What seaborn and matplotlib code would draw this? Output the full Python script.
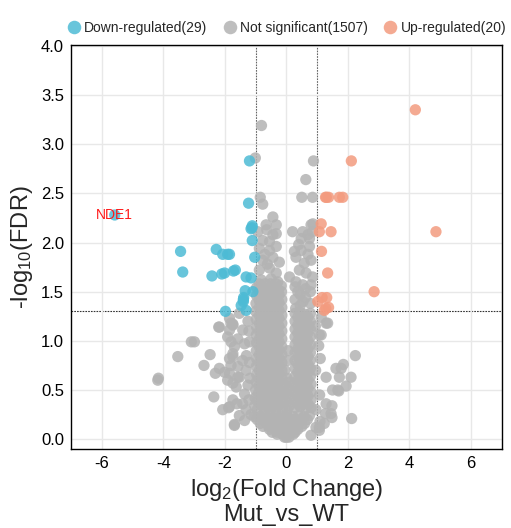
import numpy as np
import pandas as pd
import matplotlib
matplotlib.use("Agg")
import matplotlib.pyplot as plt
import seaborn as sns

# ---------------- data ----------------
down_pts = [
    (-5.58, 2.28), (-1.20, 2.83), (-1.23, 2.40), (-1.11, 2.17), (-1.15, 2.14),
    (-1.11, 2.02), (-1.03, 1.85), (-3.44, 1.91), (-3.37, 1.70), (-2.28, 1.93),
    (-2.07, 1.88), (-1.91, 1.88), (-1.85, 1.88), (-2.42, 1.66), (-2.10, 1.68),
    (-2.01, 1.69), (-1.72, 1.71), (-1.66, 1.72), (-1.31, 1.65), (-1.15, 1.64),
    (-1.34, 1.51), (-1.39, 1.44), (-1.40, 1.42), (-1.47, 1.36), (-1.31, 1.31),
    (-1.98, 1.30), (-1.09, 1.50), (-1.40, 1.40), (-1.12, 2.15),
]
up_pts = [
    (4.19, 3.35), (2.11, 2.83), (1.27, 2.46), (1.37, 2.46), (1.72, 2.46),
    (1.83, 2.46), (1.30, 2.46), (4.86, 2.11), (1.13, 2.19), (1.07, 2.11),
    (1.45, 2.11), (1.14, 1.91), (1.34, 1.69), (2.85, 1.50), (1.16, 1.44),
    (1.31, 1.44), (1.02, 1.40), (1.37, 1.34), (1.23, 1.31), (1.28, 1.33),
]
gray_pts = [
    # upper scattered
    (-0.81, 3.19), (-1.01, 2.86), (0.88, 2.83), (0.63, 2.64), (-0.85, 2.46),
    (-0.77, 2.39), (0.50, 2.46), (0.85, 2.46), (-0.44, 2.26), (-0.33, 2.18),
    (-0.66, 2.18), (-0.64, 2.13), (-0.93, 2.11), (-0.44, 2.08), (-0.33, 2.09),
    (-0.77, 2.02), (-0.55, 2.01), (0.20, 2.11), (0.53, 2.11), (0.80, 2.18),
    (0.85, 2.11), (0.48, 2.04), (0.75, 2.04), (-0.88, 1.94), (-0.55, 1.92),
    (-0.33, 1.96), (0.26, 1.91), (0.48, 1.92), (0.75, 1.96), (-0.77, 1.82),
    (-0.44, 1.85), (-0.23, 1.80), (0.31, 1.85), (0.58, 1.79), (0.80, 1.82),
    (-0.88, 1.72), (-0.55, 1.74), (-0.33, 1.69), (0.10, 1.65), (0.64, 1.69),
    (0.85, 1.65), (-0.82, 1.62), (-0.50, 1.63), (-0.28, 1.60), (0.31, 1.60),
    (0.53, 1.57), (0.80, 1.57), (0.86, 2.19), (0.70, 2.08), (0.40, 1.98),
    (-0.70, 1.88), (-0.62, 1.78), (0.70, 1.88), (0.42, 1.72),
    # left scattered
    (-0.88, 1.41), (-1.85, 1.23), (-1.74, 1.17), (-2.18, 1.14), (-1.53, 1.28),
    (-1.74, 1.16), (-1.42, 1.11), (-1.69, 0.94), (-1.36, 0.97), (-1.20, 0.99),
    (-1.74, 0.84), (-1.42, 0.80), (-1.58, 0.74), (-1.85, 0.67), (-1.53, 0.63),
    (-1.31, 0.70), (-1.63, 0.53), (-1.36, 0.46), (-1.74, 0.40), (-1.42, 0.36),
    (-1.85, 0.33), (-1.53, 0.24), (-1.31, 0.30), (-1.69, 0.14), (-1.36, 0.19),
    (-4.16, 0.62), (-4.18, 0.60), (-3.53, 0.84), (-3.09, 0.99), (-2.99, 0.99),
    (-2.48, 0.86), (-2.68, 0.75), (-2.36, 0.43), (-2.20, 1.14), (-2.31, 0.67),
    (-2.18, 0.72), (-2.01, 0.68), (-1.80, 0.75), (-1.85, 0.82), (-1.74, 0.87),
    (-1.91, 1.04), (-1.80, 0.99), (-1.58, 1.02), (-1.85, 1.11), (-1.80, 1.18),
    (-1.91, 0.60), (-1.74, 0.57), (-1.58, 0.63), (-2.07, 0.30), (-1.88, 0.32),
    (-1.69, 0.15), (-1.61, 0.36), (-1.25, 1.20), (-1.30, 0.85), (-1.25, 0.55),
    (-1.22, 0.40), (-1.20, 0.78), (-1.18, 0.62), (-1.15, 0.25), (-1.22, 1.10),
    # right scattered
    (1.29, 1.18), (1.13, 1.24), (1.07, 1.06), (1.61, 0.72), (1.29, 0.63),
    (1.50, 0.50), (1.67, 0.50), (1.29, 0.36), (1.45, 0.26), (1.23, 0.16),
    (1.07, 0.09), (0.80, 0.04), (0.96, 0.12), (2.24, 0.85), (1.85, 0.76),
    (1.78, 0.72), (2.10, 0.63), (1.72, 0.63), (1.94, 0.54), (1.70, 0.49),
    (1.48, 0.34), (1.27, 0.26), (1.48, 0.22), (2.12, 0.21), (1.34, 1.18),
    (1.13, 1.06), (1.10, 0.82), (1.07, 0.12), (1.09, 0.18), (1.05, 0.95),
    (1.08, 0.45), (0.95, 0.70), (0.96, 0.30), (0.94, 1.15),
    # dense core, left column
    (-0.97, 1.54), (-0.79, 1.55), (-0.61, 1.53), (-0.43, 1.54), (-0.26, 1.52),
    (-0.97, 1.46), (-0.79, 1.47), (-0.61, 1.45), (-0.43, 1.46), (-0.24, 1.47),
    (-0.99, 1.38), (-0.79, 1.39), (-0.61, 1.37), (-0.43, 1.38), (-0.24, 1.39),
    (-1.00, 1.30), (-0.80, 1.31), (-0.62, 1.29), (-0.43, 1.30), (-0.24, 1.31),
    (-0.98, 1.22), (-0.79, 1.23), (-0.61, 1.21), (-0.43, 1.22), (-0.24, 1.23),
    (-0.97, 1.14), (-0.79, 1.15), (-0.61, 1.13), (-0.43, 1.14), (-0.24, 1.15),
    (-0.98, 1.06), (-0.79, 1.07), (-0.61, 1.05), (-0.43, 1.06), (-0.24, 1.07),
    (-0.97, 0.98), (-0.79, 0.99), (-0.61, 0.97), (-0.43, 0.98), (-0.24, 0.99),
    (-0.98, 0.90), (-0.79, 0.91), (-0.61, 0.89), (-0.43, 0.90), (-0.24, 0.91),
    (-0.97, 0.82), (-0.79, 0.83), (-0.61, 0.81), (-0.43, 0.82), (-0.24, 0.83),
    (-0.98, 0.74), (-0.79, 0.75), (-0.61, 0.73), (-0.43, 0.74), (-0.24, 0.75),
    (-0.97, 0.66), (-0.79, 0.67), (-0.61, 0.65), (-0.43, 0.66), (-0.24, 0.67),
    (-0.98, 0.58), (-0.79, 0.59), (-0.61, 0.57), (-0.43, 0.58), (-0.24, 0.59),
    (-1.00, 0.50), (-0.79, 0.51), (-0.61, 0.49), (-0.43, 0.50), (-0.24, 0.51),
    (-1.02, 0.42), (-0.80, 0.43), (-0.61, 0.41), (-0.43, 0.42), (-0.24, 0.43),
    (-1.03, 0.34), (-0.81, 0.35), (-0.62, 0.33), (-0.43, 0.34), (-0.24, 0.35),
    # dense core, left column (in-between)
    (-0.88, 1.58), (-0.70, 1.58), (-0.52, 1.58), (-0.34, 1.58), (-0.17, 1.56),
    (-0.88, 1.50), (-0.70, 1.50), (-0.52, 1.50), (-0.34, 1.50), (-0.16, 1.50),
    (-0.88, 1.42), (-0.70, 1.42), (-0.52, 1.42), (-0.34, 1.42), (-0.15, 1.42),
    (-0.88, 1.34), (-0.70, 1.34), (-0.52, 1.34), (-0.34, 1.34), (-0.15, 1.34),
    (-0.88, 1.26), (-0.70, 1.26), (-0.52, 1.26), (-0.34, 1.26), (-0.15, 1.26),
    (-0.88, 1.18), (-0.70, 1.18), (-0.52, 1.18), (-0.34, 1.18), (-0.15, 1.18),
    (-0.88, 1.10), (-0.70, 1.10), (-0.52, 1.10), (-0.34, 1.10), (-0.15, 1.10),
    (-0.88, 1.02), (-0.70, 1.02), (-0.52, 1.02), (-0.34, 1.02), (-0.15, 1.02),
    (-0.88, 0.94), (-0.70, 0.94), (-0.52, 0.94), (-0.34, 0.94), (-0.15, 0.94),
    (-0.88, 0.86), (-0.70, 0.86), (-0.52, 0.86), (-0.34, 0.86), (-0.15, 0.86),
    (-0.88, 0.78), (-0.70, 0.78), (-0.52, 0.78), (-0.34, 0.78), (-0.15, 0.78),
    (-0.88, 0.70), (-0.70, 0.70), (-0.52, 0.70), (-0.34, 0.70), (-0.15, 0.70),
    (-0.88, 0.62), (-0.70, 0.62), (-0.52, 0.62), (-0.34, 0.62), (-0.15, 0.62),
    (-0.90, 0.54), (-0.70, 0.54), (-0.52, 0.54), (-0.34, 0.54), (-0.14, 0.54),
    (-0.92, 0.46), (-0.70, 0.46), (-0.52, 0.46), (-0.34, 0.46), (-0.12, 0.46),
    (-0.93, 0.38), (-0.72, 0.38), (-0.52, 0.38), (-0.34, 0.38), (-0.12, 0.38),
    (-0.95, 0.30), (-0.72, 0.30), (-0.52, 0.30), (-0.34, 0.30), (-0.12, 0.30),
    # dense core, centre (lower part only)
    (0.02, 0.62), (0.02, 0.54), (0.02, 0.46), (0.02, 0.38), (0.02, 0.30),
    (0.10, 0.58), (0.10, 0.50), (0.10, 0.42), (0.10, 0.34), (-0.05, 0.70),
    (0.04, 0.80), (0.06, 0.90),
    # dense core, right column
    (0.28, 1.55), (0.62, 1.53), (0.78, 1.50), (0.45, 1.47), (0.28, 1.42),
    (0.62, 1.44), (0.78, 1.38), (0.45, 1.36), (0.30, 1.33),
    (0.28, 1.28), (0.45, 1.29), (0.62, 1.27), (0.78, 1.28),
    (0.28, 1.20), (0.45, 1.21), (0.62, 1.19), (0.78, 1.20),
    (0.28, 1.12), (0.45, 1.13), (0.62, 1.11), (0.78, 1.12),
    (0.28, 1.04), (0.45, 1.05), (0.62, 1.03), (0.78, 1.04),
    (0.28, 0.96), (0.45, 0.97), (0.62, 0.95), (0.78, 0.96),
    (0.28, 0.88), (0.45, 0.89), (0.62, 0.87), (0.78, 0.88),
    (0.28, 0.80), (0.45, 0.81), (0.62, 0.79), (0.78, 0.80),
    (0.28, 0.72), (0.45, 0.73), (0.62, 0.71), (0.78, 0.72),
    (0.28, 0.64), (0.45, 0.65), (0.62, 0.63), (0.78, 0.64),
    (0.28, 0.56), (0.45, 0.57), (0.62, 0.55), (0.80, 0.56),
    (0.28, 0.48), (0.45, 0.49), (0.62, 0.47), (0.80, 0.48),
    (0.28, 0.40), (0.45, 0.41), (0.62, 0.39), (0.80, 0.40),
    (0.28, 0.32), (0.45, 0.33), (0.62, 0.31), (0.80, 0.32),
    # dense core, right column (in-between)
    (0.37, 1.24), (0.54, 1.24), (0.70, 1.24), (0.37, 1.16), (0.54, 1.16),
    (0.70, 1.16), (0.37, 1.08), (0.54, 1.08), (0.70, 1.08), (0.37, 1.00),
    (0.54, 1.00), (0.70, 1.00), (0.37, 0.92), (0.54, 0.92), (0.70, 0.92),
    (0.37, 0.84), (0.54, 0.84), (0.70, 0.84), (0.37, 0.76), (0.54, 0.76),
    (0.70, 0.76), (0.37, 0.68), (0.54, 0.68), (0.70, 0.68), (0.37, 0.60),
    (0.54, 0.60), (0.70, 0.60), (0.37, 0.52), (0.54, 0.52), (0.70, 0.52),
    (0.37, 0.44), (0.54, 0.44), (0.70, 0.44), (0.37, 0.36), (0.54, 0.36),
    (0.70, 0.36), (0.54, 1.40), (0.37, 1.50),
    # dense core, bottom tip
    (-1.05, 0.23), (-0.87, 0.23), (-0.69, 0.24), (-0.51, 0.23), (-0.33, 0.24),
    (-0.15, 0.23), (0.03, 0.24), (0.21, 0.23), (0.39, 0.24), (0.57, 0.23),
    (0.75, 0.24), (-0.85, 0.16), (-0.67, 0.17), (-0.49, 0.16), (-0.31, 0.17),
    (-0.13, 0.16), (0.05, 0.17), (0.23, 0.16), (0.41, 0.17), (0.59, 0.16),
    (-0.55, 0.10), (-0.37, 0.10), (-0.19, 0.10), (0.00, 0.10), (0.19, 0.10),
    (0.37, 0.10), (-0.30, 0.05), (-0.12, 0.05), (0.06, 0.05), (0.22, 0.05),
    (0.00, 0.02), (-0.95, 0.20), (-0.76, 0.20), (-0.58, 0.20), (-0.40, 0.20),
    (-0.22, 0.20), (-0.04, 0.20), (0.14, 0.20), (0.32, 0.20), (0.50, 0.20),
    (0.68, 0.20), (-0.76, 0.13), (-0.58, 0.13), (-0.40, 0.13), (-0.22, 0.13),
    (-0.04, 0.13), (0.14, 0.13), (0.32, 0.13), (0.50, 0.13), (-0.46, 0.07),
    (-0.28, 0.07), (-0.10, 0.07), (0.10, 0.07), (0.28, 0.07), (-0.06, 0.02),
    (0.08, 0.02),
]
labels = ["Down-regulated(29)", "Not significant(1507)", "Up-regulated(20)"]
colors = ["#4DBBD5", "#B3B3B3", "#F39B7F"]
xticks = [-6, -4, -2, 0, 2, 4, 6]
yticks = [0.0, 0.5, 1.0, 1.5, 2.0, 2.5, 3.0, 3.5, 4.0]
fc_cut = 1.0
fdr_cut = -np.log10(0.05)
gene_label = "NDE1"
gene_xy = down_pts[0]

# ---------------- build table ----------------
rows = []
for x, y in gray_pts:
    rows.append((x, y, labels[1]))
for x, y in down_pts:
    rows.append((x, y, labels[0]))
for x, y in up_pts:
    rows.append((x, y, labels[2]))
df = pd.DataFrame(rows, columns=["log2FC", "mlog10FDR", "group"])

# ---------------- plot ----------------
sns.set_style("whitegrid")
plt.rcParams["font.family"] = ["Liberation Sans", "DejaVu Sans"]
plt.rcParams["mathtext.fontset"] = "custom"
plt.rcParams["mathtext.rm"] = "Liberation Sans"
plt.rcParams["mathtext.it"] = "Liberation Sans:italic"
plt.rcParams["axes.unicode_minus"] = False

fig = plt.figure(figsize=(5.11, 5.28), dpi=100)
ax = fig.add_axes([0.139, 0.1496, 0.843, 0.7654])

sns.scatterplot(
    data=df, x="log2FC", y="mlog10FDR", hue="group",
    hue_order=labels, palette=dict(zip(labels, colors)),
    s=66, alpha=0.85, linewidth=0, ax=ax, legend=True,
)

ax.axvline(-fc_cut, color="#666666", lw=0.8, ls=(0, (1.5, 1.0)), zorder=0.5)
ax.axvline(fc_cut, color="#666666", lw=0.8, ls=(0, (1.5, 1.0)), zorder=0.5)
ax.axhline(fdr_cut, color="#333333", lw=0.8, ls=(0, (1.5, 1.0)), zorder=0.5)

ax.text(gene_xy[0], gene_xy[1], gene_label, color="#FF1A1A", fontsize=10,
        ha="center", va="center", zorder=5)

ax.set_xlim(-7, 7)
ax.set_ylim(-0.1, 4.01)
ax.set_xticks(xticks)
ax.set_yticks(yticks)
ax.set_yticklabels([f"{v:.1f}" for v in yticks])
ax.tick_params(axis="both", labelsize=12, length=3, width=0.8, color="black",
               labelcolor="black", pad=2)
ax.grid(True, color="#E8E8E8", lw=1.0)
for sp in ax.spines.values():
    sp.set_color("black")
    sp.set_linewidth(1.0)

ax.set_xlabel("log$_2$(Fold Change)\nMut_vs_WT", fontsize=17, labelpad=4,
              linespacing=1.1)
ax.set_ylabel("-log$_{10}$(FDR)", fontsize=17, labelpad=4)

sns.move_legend(ax, "lower right", bbox_to_anchor=(1.03, 1.005), ncol=3,
                frameon=False, title=None, fontsize=10, markerscale=1.2,
                handletextpad=0.05, columnspacing=0.9, borderaxespad=0.2,
                handlelength=1.4)

fig.savefig("out.png", dpi=100)
